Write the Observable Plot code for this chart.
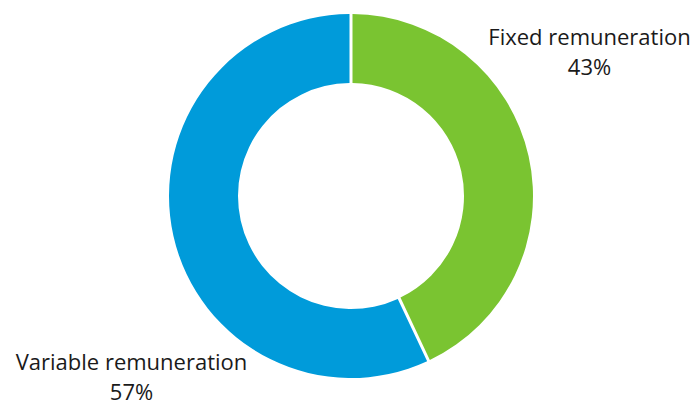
<!DOCTYPE html>
<html>
<head>
<meta charset="utf-8">
<script src="https://cdn.jsdelivr.net/npm/d3@7"></script>
<script src="https://cdn.jsdelivr.net/npm/@observablehq/plot@0.6"></script>
<style>
  html, body { margin: 0; padding: 0; background: #fff; }
  #chart { width: 691px; height: 403px; }
</style>
</head>
<body>
<div id="chart"></div>
<script>
const categories = ["Fixed remuneration", "Variable remuneration"];
const shares = [43, 57];
const colors = ["#7AC431", "#009BDA"];

const data = categories.map((c, i) => ({category: c, value: shares[i], color: colors[i]}));

// layout (pixels)
const W = 691, H = 403, cx = 351, cy = 196, R = 182, rInner = 113;
// label anchors (top of first line), in units of the outer radius relative to the centre
const labelPos = {
  "Fixed remuneration": [1.3077, 0.952],
  "Variable remuneration": [-1.2088, -0.834]
};
const labels = data.map(d => ({
  text: `${d.category}\n${d.value}%`,
  lx: labelPos[d.category][0],
  ly: labelPos[d.category][1]
}));

const donut = (index, scales, values, dimensions) => {
  const x0 = scales.x(0), y0 = scales.y(0);
  const outer = scales.x(1) - x0;
  const inner = outer * rInner / R;
  const pie = d3.pie().sort(null).value(d => d.value)(data);
  const arc = d3.arc().innerRadius(inner).outerRadius(outer)
    .padAngle(3 / outer).padRadius(outer);
  const g = d3.create("svg:g").attr("transform", `translate(${x0},${y0})`);
  g.selectAll("path").data(pie).join("path")
    .attr("d", arc)
    .attr("fill", d => d.data.color);
  return g.node();
};

const chart = Plot.plot({
  width: W,
  height: H,
  margin: 0,
  style: {fontFamily: "'Open Sans', sans-serif", background: "#fff"},
  x: {type: "linear", domain: [-1, 1], range: [cx - R, cx + R], axis: null},
  y: {type: "linear", domain: [-1, 1], range: [cy + R, cy - R], axis: null},
  marks: [
    donut,
    Plot.text(labels, {
      x: "lx", y: "ly", text: "text",
      fontSize: 22, lineHeight: 1.37, fill: "#1a1a1a",
      textAnchor: "middle", lineAnchor: "top"
    })
  ]
});
document.getElementById("chart").appendChild(chart);
</script>
</body>
</html>
